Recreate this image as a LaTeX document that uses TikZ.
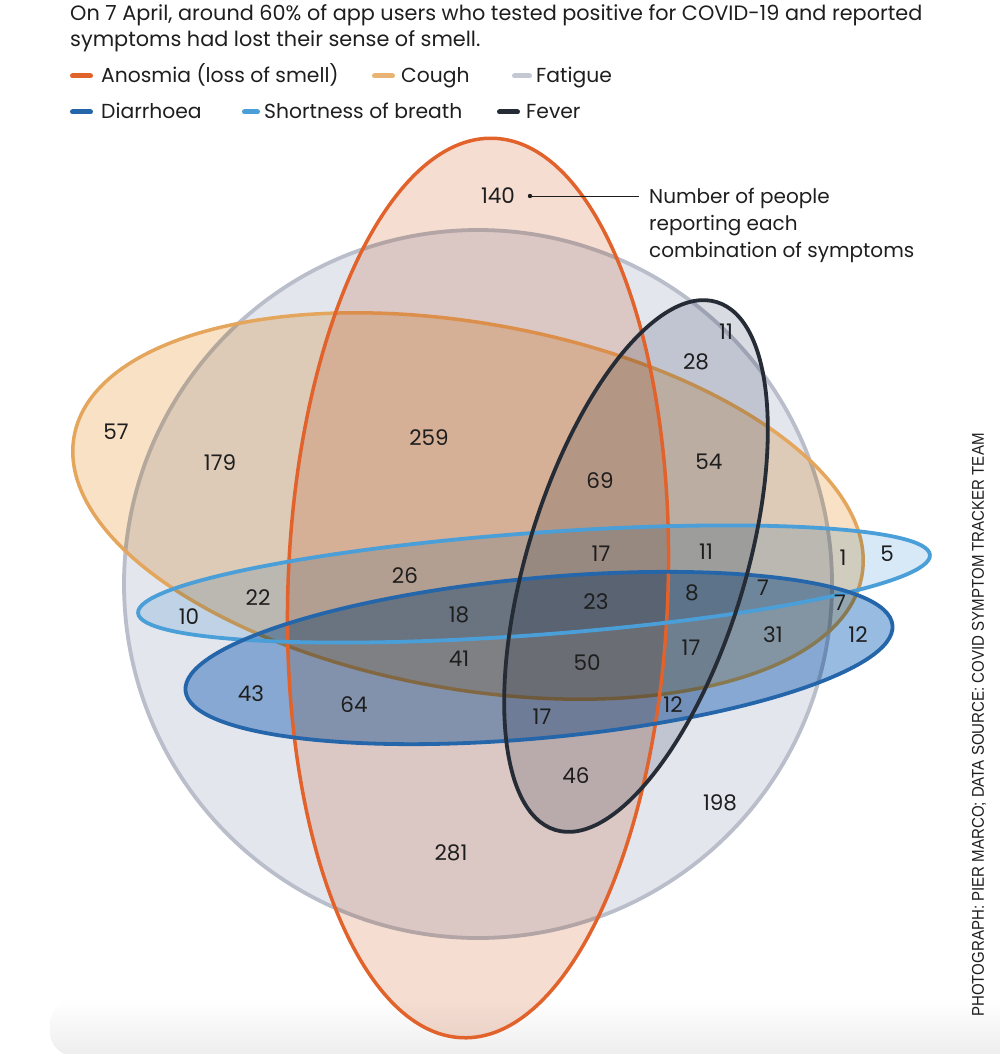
\documentclass[tikz,border=0pt]{standalone}
\usepackage{fontspec}
\usepackage{graphicx}
\setmainfont{Poppins}
\newfontfamily\credfont{Liberation Sans}
\definecolor{txt}{HTML}{1E1E1E}
% multiply colours (as seen on white)
\definecolor{fatF}{RGB}{228,230,237}
\definecolor{anoF}{RGB}{246,221,210}
\definecolor{couF}{RGB}{248,225,197}
\definecolor{sobF}{RGB}{215,233,247}
\definecolor{diaF}{RGB}{152,187,226}
\definecolor{fevF}{RGB}{216,219,226}
% strokes
\definecolor{fatS}{HTML}{BABECA}
\definecolor{anoS}{HTML}{E2622B}
\definecolor{couS}{HTML}{E4A65C}
\definecolor{sobS}{HTML}{4A9FD8}
\definecolor{diaS}{HTML}{2566AA}
\definecolor{fevS}{HTML}{262C36}
\tikzset{
  num/.style={font=\fontsize{21.5}{25}\selectfont, text=txt, inner sep=0pt},
  titletext/.style={font=\fontsize{20.8}{25}\selectfont, text=txt, inner sep=0pt, anchor=base west},
  legtext/.style={font=\fontsize{20.3}{24}\selectfont, text=txt, inner sep=0pt, anchor=base west},
  anntext/.style={font=\fontsize{20}{24}\selectfont, text=txt, inner sep=0pt, anchor=base west},
  legdash/.style={line width=5pt, line cap=round},
  shapeline/.style={line width=3.8pt},
}
\begin{document}
\begin{tikzpicture}[x=1pt,y=-1pt]
\useasboundingbox (0,0) rectangle (1000,1054);
\clip (0,0) rectangle (1000,1054);
% card shadow at bottom
\shade[top color=white, bottom color=black!7, rounded corners=24pt] (50,1000) rectangle (1040,1056);

% title
\node[titletext] (title1) at (70,21) {On 7 April, around 60\% of app users who tested positive for COVID-19 and reported};
\node[titletext] (title2) at (70,47) {symptoms had lost their sense of smell.};

% legend
\draw[legdash, anoS] (72.5,76) -- (90.5,76);
\node[legtext] (lgano) at (101,83) {Anosmia (loss of smell)};
\draw[legdash, couS!85!white] (374.5,76) -- (392.5,76);
\node[legtext] (lgcou) at (401,83) {Cough};
\draw[legdash, fatS!85!white] (514.5,76) -- (529.5,76);
\node[legtext] (lgfat) at (536,83) {Fatigue};
\draw[legdash, diaS] (72.5,112) -- (90.5,112);
\node[legtext] (lgdia) at (101,119) {Diarrhoea};
\draw[legdash, sobS] (244.5,112) -- (257.5,112);
\node[legtext] (lgsob) at (264,119) {Shortness of breath};
\draw[legdash, fevS] (499.5,112) -- (517.5,112);
\node[legtext] (lgfev) at (526,119) {Fever};

% shapes: fills multiplied
\begin{scope}[blend mode=multiply]
  \fill[fatF] (478,584) circle (354);
  \draw[shapeline, fatS, blend mode=normal] (478,584) circle (354);
  \fill[couF, rotate around={-10:(468,506)}] (468,506) ellipse [x radius=400, y radius=183];
  \draw[line width=3.5pt, couS, blend mode=normal, rotate around={-10:(468,506)}] (468,506) ellipse [x radius=400, y radius=183];
  \fill[anoF, rotate around={-2:(478,588)}] (478,588) ellipse [x radius=190, y radius=450];
  \fill[sobF, rotate around={4.2:(534,584)}] (534,584) ellipse [x radius=397, y radius=51];
  \fill[diaF, rotate around={5.3:(539,658)}] (539,658) ellipse [x radius=355, y radius=80];
  \fill[fevF, rotate around={-17:(636,566)}] (636,566) ellipse [x radius=109, y radius=276];
\end{scope}
% strokes on top
\draw[line width=3.5pt, anoS, rotate around={-2:(478,588)}] (478,588) ellipse [x radius=190, y radius=450];
\draw[shapeline, sobS, rotate around={4.2:(534,584)}] (534,584) ellipse [x radius=397, y radius=51];
\draw[shapeline, diaS, rotate around={5.3:(539,658)}] (539,658) ellipse [x radius=355, y radius=80];
\draw[shapeline, fevS, rotate around={-17:(636,566)}] (636,566) ellipse [x radius=109, y radius=276];

% numbers
\node[num] (n140) at (498,196) {140};
\node[num] (n11a) at (726,332) {11};
\node[num] (n28) at (696,362) {28};
\node[num] (n57) at (116,432) {57};
\node[num] (n179) at (220,463) {179};
\node[num] (n259) at (429,438) {259};
\node[num] (n54) at (709,462) {54};
\node[num] (n69) at (600,481) {69};
\node[num] (n17a) at (601,554) {17};
\node[num] (n11b) at (706,552) {11};
\node[num] (n1) at (843,558) {1};
\node[num] (n5) at (887,554) {5};
\node[num] (n26) at (405,576) {26};
\node[num] (n22) at (258,598) {22};
\node[num] (n10) at (189,617) {10};
\node[num] (n18) at (459,615) {18};
\node[num] (n23) at (596,602) {23};
\node[num] (n8) at (692,593) {8};
\node[num] (n7a) at (763,588) {7};
\node[num] (n7b) at (840,603) {7};
\node[num] (n31) at (773,635) {31};
\node[num] (n12a) at (858,635) {12};
\node[num] (n41) at (459,659) {41};
\node[num] (n50) at (587,663) {50};
\node[num] (n17b) at (691,648) {17};
\node[num] (n43) at (251,694) {43};
\node[num] (n64) at (354,705) {64};
\node[num] (n17c) at (542,717) {17};
\node[num] (n12b) at (673,705) {12};
\node[num] (n46) at (576,776) {46};
\node[num] (n198) at (720,803) {198};
\node[num] (n281) at (451,853) {281};

% annotation
\coordinate (dot140) at (530,196);
\fill[txt] (dot140) circle (2.2);
\node[anntext] (ann1) at (649,203) {Number of people};
\node[anntext] (ann2) at (649,230) {reporting each};
\node[anntext] (ann3) at (649,257) {combination of symptoms};
\draw[txt, line width=1pt] (dot140) -- ([xshift=-10pt]dot140 -| ann1.west);

% credit
\node[rotate=90, inner sep=0pt, text=txt, font=\credfont\fontsize{17}{20}\selectfont] (credit) at (979,725)
  {\scalebox{0.885}[1]{PHOTOGRAPH: PIER MARCO; DATA SOURCE: COVID SYMPTOM TRACKER TEAM}};
\end{tikzpicture}
\end{document}
